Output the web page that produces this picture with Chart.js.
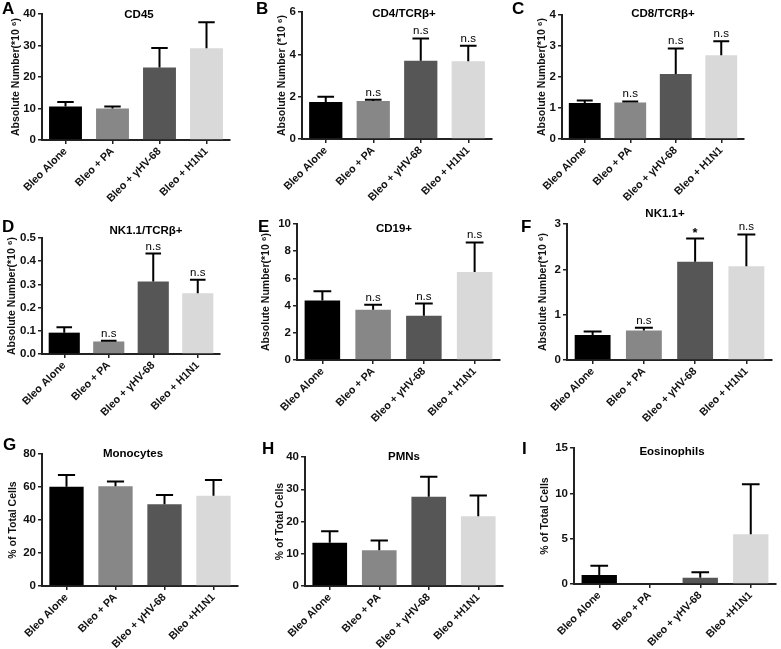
<!DOCTYPE html>
<html>
<head>
<meta charset="utf-8">
<script src="https://cdn.jsdelivr.net/npm/chart.js@4.4.1/dist/chart.umd.min.js"></script>
<style>
  body { margin: 0; background: #fff; width: 781px; height: 649px; position: relative; overflow: hidden;
         font-family: "Liberation Sans", Arial, sans-serif; }
  canvas { position: absolute; }
  .letter { position: absolute; font-weight: bold; font-size: 17px; line-height: 17px; color: #000; }
</style>
</head>
<body>
<script>
const FONT = '"Liberation Sans", Arial, sans-serif';

// groups on the x axis
const groups = ['Bleo Alone', 'Bleo + PA', 'Bleo + γHV-68', 'Bleo + H1N1'];
const groupsPct = ['Bleo Alone', 'Bleo + PA', 'Bleo + γHV-68', 'Bleo +H1N1'];
const barColors = ['#000000', '#878787', '#565656', '#d9d9d9'];

// means and SEM
const cd45Mean = [10.6, 10.0, 23.0, 29.1];
const cd45Sem = [1.5, 0.6, 6.2, 8.3];
const cd45Ticks = [0, 10, 20, 30, 40];

const cd4Mean = [1.75, 1.8, 3.7, 3.67];
const cd4Sem = [0.25, 0.06, 1.05, 0.73];
const cd4Ticks = [0, 2, 4, 6];
const cd4Sig = ['', 'n.s', 'n.s', 'n.s'];

const cd8Mean = [1.16, 1.18, 2.1, 2.7];
const cd8Sem = [0.08, 0.03, 0.82, 0.45];
const cd8Ticks = [0, 1, 2, 3, 4];
const cd8Sig = ['', 'n.s', 'n.s', 'n.s'];

const nktMean = [0.092, 0.054, 0.312, 0.262];
const nktSem = [0.023, 0.003, 0.121, 0.058];
const nktTicks = [0, 0.1, 0.2, 0.3, 0.4, 0.5];
const nktSig = ['', 'n.s', 'n.s', 'n.s'];

const cd19Mean = [4.38, 3.7, 3.25, 6.47];
const cd19Sem = [0.67, 0.36, 0.9, 2.17];
const cd19Ticks = [0, 2, 4, 6, 8, 10];
const cd19Sig = ['', 'n.s', 'n.s', 'n.s'];

const nkMean = [0.55, 0.65, 2.17, 2.07];
const nkSem = [0.08, 0.06, 0.51, 0.7];
const nkTicks = [0, 1, 2, 3];
const nkSig = ['', 'n.s', '*', 'n.s'];

const monoMean = [60.2, 60.5, 49.6, 54.7];
const monoSem = [7.0, 2.8, 5.6, 9.5];
const monoTicks = [0, 20, 40, 60, 80];

const pmnMean = [13.4, 11.1, 27.7, 21.6];
const pmnSem = [3.6, 3.0, 6.2, 6.5];
const pmnTicks = [0, 10, 20, 30, 40];

const eosMean = [1.0, 0, 0.7, 5.5];
const eosSem = [1.0, 0, 0.6, 5.5];
const eosTicks = [0, 5, 10, 15];

const absTitle = 'Absolute Number(*10 ⁶)';
const pctTitle = '% of Total Cells';

// box = canvas [x, y, w, h]; area = plot [left, top, right, bottom]
const panels = [
  { letter: 'A', lp: [2, 2], title: 'CD45', tp: [139, 15], yTitle: absTitle, ytx: 16,
    labels: groups, mean: cd45Mean, sem: cd45Sem, ticks: cd45Ticks,
    box: [0, 0, 260, 210], area: [42, 14, 230, 140] },
  { letter: 'B', lp: [256, 2], title: 'CD4/TCRβ+', tp: [404, 14], yTitle: 'Absolute Number (*10 ⁶)', ytx: 282,
    labels: groups, mean: cd4Mean, sem: cd4Sem, ticks: cd4Ticks, sig: cd4Sig,
    box: [260, 0, 260, 210], area: [302, 12, 492, 139] },
  { letter: 'C', lp: [512, 2], title: 'CD8/TCRβ+', tp: [663, 14], yTitle: absTitle, ytx: 542,
    labels: groups, mean: cd8Mean, sem: cd8Sem, ticks: cd8Ticks, sig: cd8Sig,
    box: [520, 0, 261, 210], area: [562, 15, 744, 139] },
  { letter: 'D', lp: [2, 220], title: 'NK1.1/TCRβ+', tp: [146, 231], yTitle: absTitle, ytx: 12,
    labels: groups, mean: nktMean, sem: nktSem, ticks: nktTicks, sig: nktSig, dec: 1,
    box: [0, 200, 260, 230], area: [42, 238, 220, 354] },
  { letter: 'E', lp: [258, 220], title: 'CD19+', tp: [394, 229], yTitle: absTitle, ytx: 266,
    labels: groups, mean: cd19Mean, sem: cd19Sem, ticks: cd19Ticks, sig: cd19Sig,
    box: [260, 200, 260, 230], area: [297, 224, 500, 360] },
  { letter: 'F', lp: [521, 220], title: 'NK1.1+', tp: [665, 214], yTitle: absTitle, ytx: 543,
    labels: groups, mean: nkMean, sem: nkSem, ticks: nkTicks, sig: nkSig,
    box: [520, 200, 261, 230], area: [567, 224, 772, 360] },
  { letter: 'G', lp: [3, 438], title: 'Monocytes', tp: [133, 454], yTitle: pctTitle, ytx: 13,
    labels: groupsPct, mean: monoMean, sem: monoSem, ticks: monoTicks,
    box: [0, 428, 260, 221], area: [42, 454, 238, 586] },
  { letter: 'H', lp: [262, 442], title: 'PMNs', tp: [404, 457], yTitle: pctTitle, ytx: 280,
    labels: groupsPct, mean: pmnMean, sem: pmnSem, ticks: pmnTicks,
    box: [260, 428, 260, 221], area: [305, 457, 503, 586] },
  { letter: 'I', lp: [522, 442], title: 'Eosinophils', tp: [672, 452], yTitle: pctTitle, ytx: 545,
    labels: groupsPct, mean: eosMean, sem: eosSem, ticks: eosTicks,
    box: [520, 428, 261, 221], area: [574, 448, 776, 584] }
];

function errorBars(p) {
  return {
    id: 'errorBars',
    afterDatasetsDraw(chart) {
      const ctx = chart.ctx;
      const meta = chart.getDatasetMeta(0);
      const ys = chart.scales.y;
      const [x0, y0] = p.box;
      ctx.save();
      ctx.strokeStyle = '#000';
      ctx.fillStyle = '#000';
      ctx.lineWidth = 2;
      ctx.textAlign = 'center';
      ctx.textBaseline = 'alphabetic';
      p.mean.forEach((m, i) => {
        const bar = meta.data[i];
        const s = p.sem[i];
        if (!(s > 0)) return;
        const yb = ys.getPixelForValue(m);
        const yt = ys.getPixelForValue(m + s);
        const hw = bar.width * 0.25;
        ctx.beginPath();
        ctx.moveTo(bar.x, yb);
        ctx.lineTo(bar.x, yt);
        ctx.moveTo(bar.x - hw, yt);
        ctx.lineTo(bar.x + hw, yt);
        ctx.stroke();
        if (p.sig && p.sig[i]) {
          const star = p.sig[i] === '*';
          ctx.font = (star ? 'bold 13px ' : '11.5px ') + FONT;
          ctx.fillText(p.sig[i], bar.x, yt - (star ? 2 : 4));
        }
      });
      // panel title
      ctx.font = 'bold 11.5px ' + FONT;
      ctx.textBaseline = 'middle';
      ctx.fillText(p.title, p.tp[0] - x0, p.tp[1] - y0);
      ctx.restore();
    }
  };
}

panels.forEach(p => {
  const [x0, y0, w, h] = p.box;
  const [L, T, R, B] = p.area;
  const canvas = document.createElement('canvas');
  canvas.width = w;
  canvas.height = h;
  canvas.style.left = x0 + 'px';
  canvas.style.top = y0 + 'px';
  document.body.appendChild(canvas);

  const lab = document.createElement('div');
  lab.className = 'letter';
  lab.textContent = p.letter;
  lab.style.left = p.lp[0] + 'px';
  lab.style.top = (p.lp[1] - 2) + 'px';
  document.body.appendChild(lab);

  const yFontSize = 10.5;
  new Chart(canvas, {
    type: 'bar',
    data: {
      labels: p.labels,
      datasets: [{
        data: p.mean,
        backgroundColor: barColors,
        borderWidth: 0,
        barPercentage: 0.7,
        categoryPercentage: 1
      }]
    },
    options: {
      responsive: false,
      animation: false,
      devicePixelRatio: 1,
      layout: { padding: { left: 0, top: T - y0, right: x0 + w - R, bottom: 0 } },
      plugins: { legend: { display: false }, tooltip: { enabled: false } },
      scales: {
        x: {
          grid: { drawOnChartArea: false, offset: false, tickLength: 4, color: '#222', lineWidth: 1.5 },
          border: { color: '#222', width: 2 },
          ticks: {
            maxRotation: 45, minRotation: 45, autoSkip: false, padding: 1, color: '#111',
            font: { family: FONT, weight: 'bold', size: 10.8 }
          },
          afterFit(s) { s.height = y0 + h - B; s.paddingLeft = 0; s.paddingRight = 0; }
        },
        y: {
          min: p.ticks[0],
          max: p.ticks[p.ticks.length - 1],
          afterBuildTicks(s) { s.ticks = p.ticks.map(v => ({ value: v })); },
          grid: { drawOnChartArea: false, tickLength: 4, color: '#222', lineWidth: 1.5 },
          border: { color: '#222', width: 2 },
          ticks: {
            padding: 2, color: '#111',
            font: { family: FONT, weight: 'bold', size: 11.5 },
            callback: v => (p.dec ? v.toFixed(p.dec) : v)
          },
          title: {
            display: true, text: p.yTitle, color: '#111',
            font: { family: FONT, weight: 'bold', size: yFontSize },
            padding: { top: p.ytx - x0 - yFontSize * 0.6, bottom: 0 }
          },
          afterFit(s) { s.width = L - x0; s.paddingTop = 0; s.paddingBottom = 0; }
        }
      }
    },
    plugins: [errorBars(p)]
  });
});
</script>
</body>
</html>
